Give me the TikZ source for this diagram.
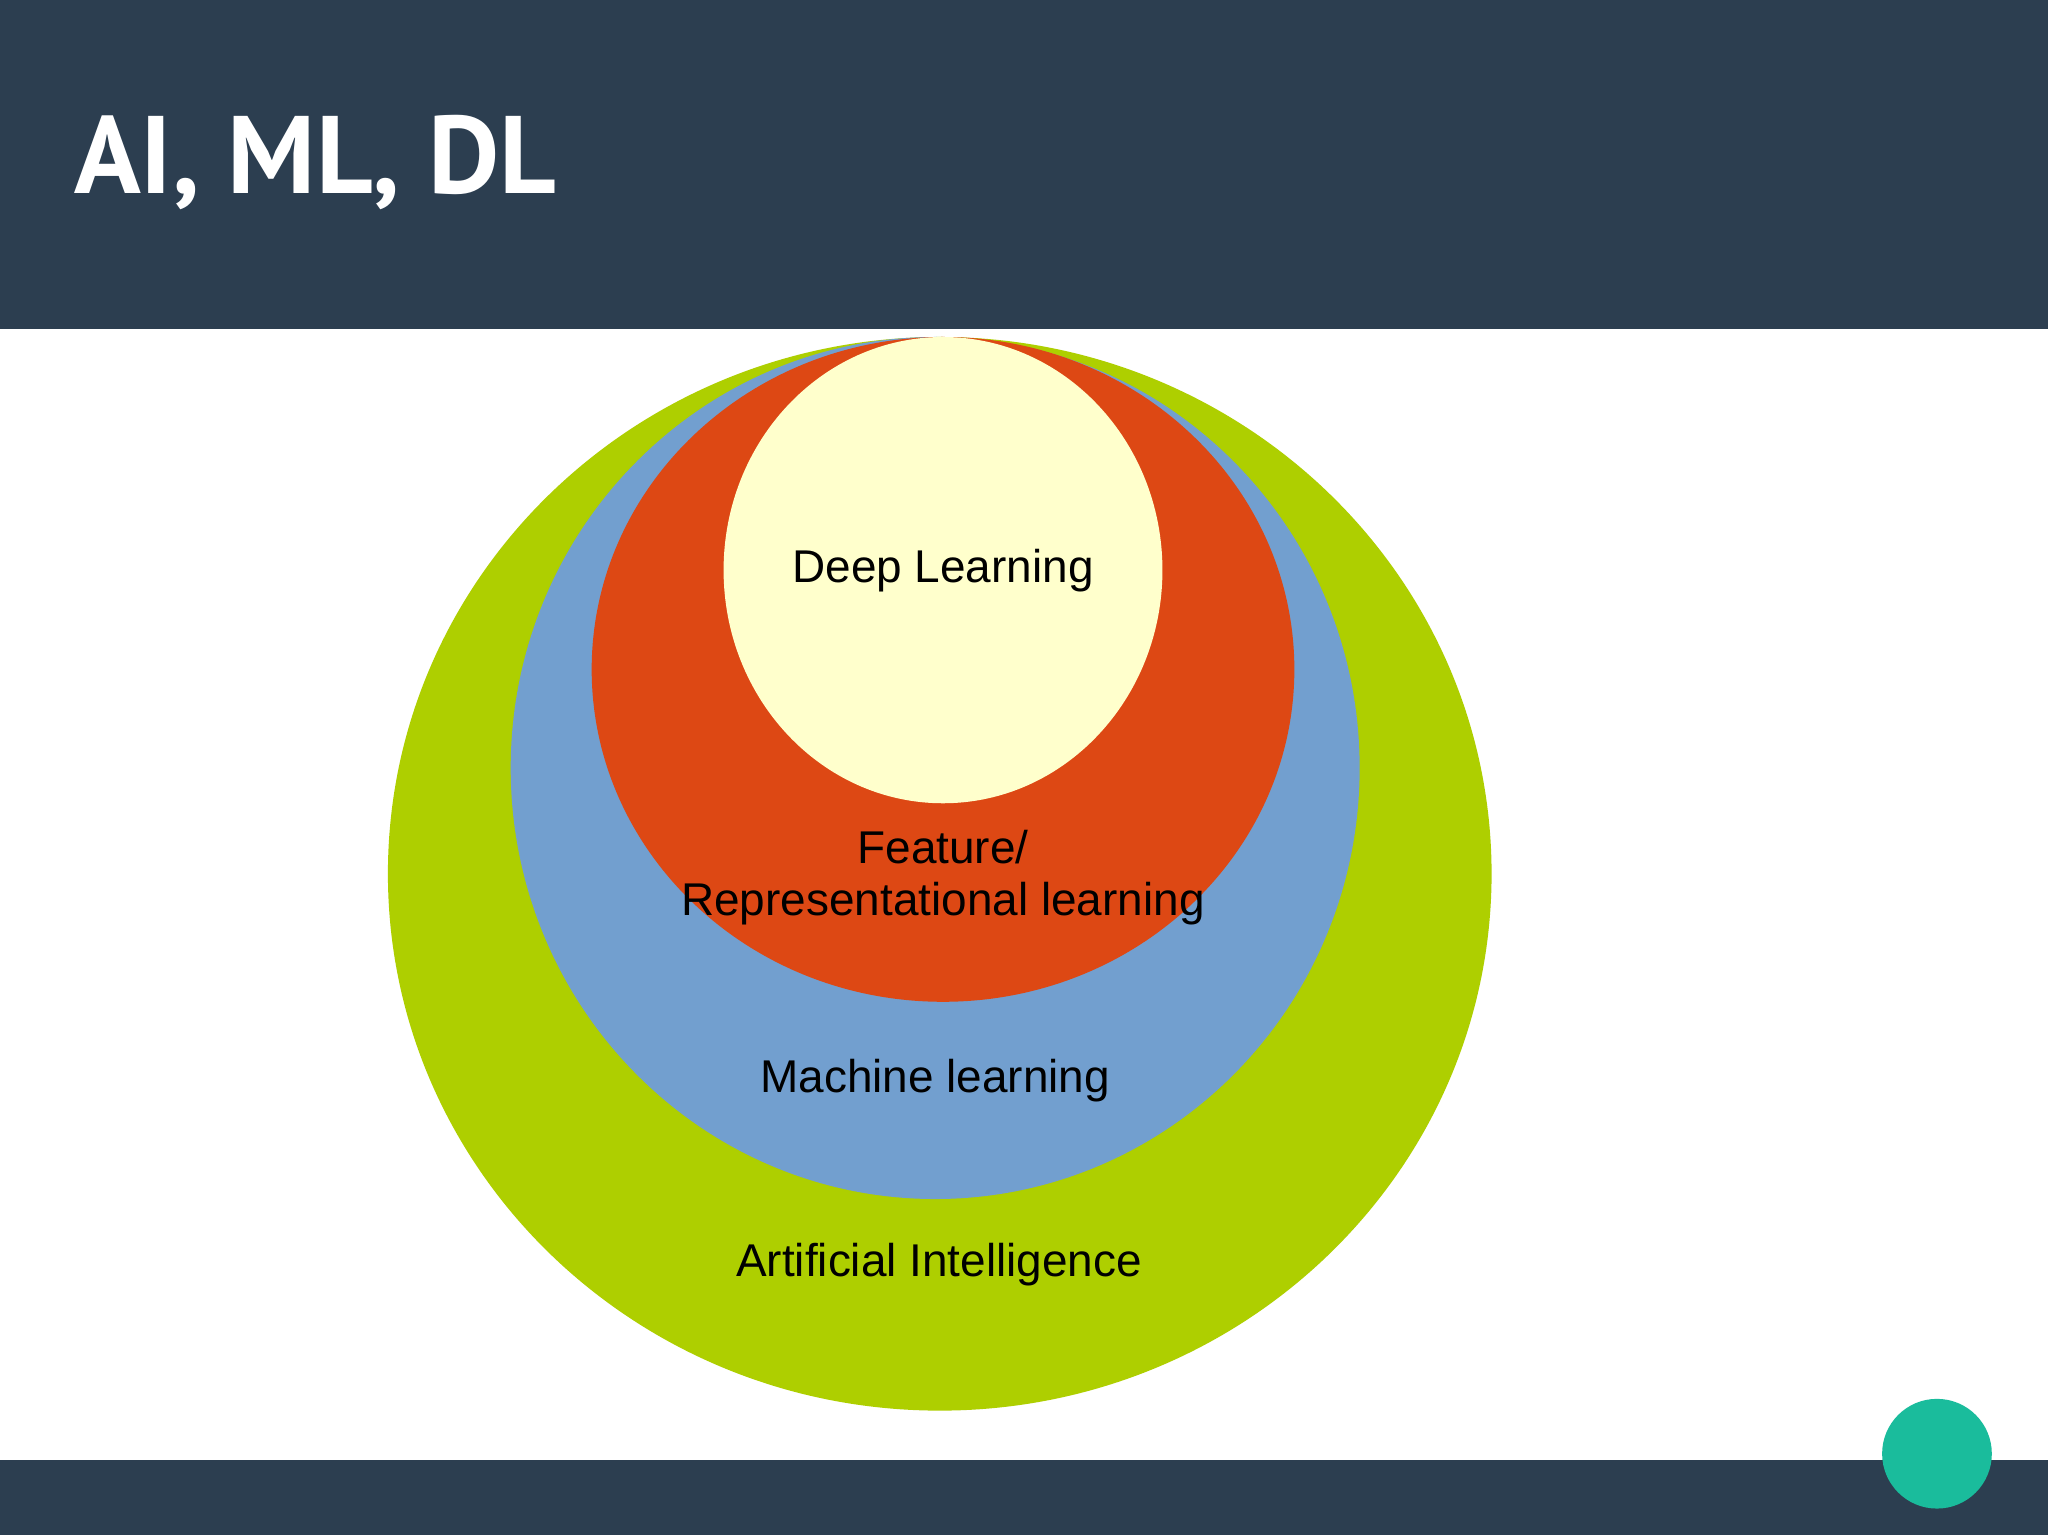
\documentclass[tikz,border=0pt]{standalone}
\usepackage{fontspec}
\setmainfont{Liberation Sans}
\newfontfamily\titlefont{PT Sans}
\definecolor{bar}{HTML}{2C3E50}
\definecolor{aigreen}{HTML}{AECF00}
\definecolor{mlblue}{HTML}{729FCF}
\definecolor{frred}{HTML}{DD4814}
\definecolor{dlyellow}{HTML}{FFFFCC}
\definecolor{teal}{HTML}{1ABC9C}
\tikzset{lbl/.style={font=\fontsize{10}{11.2}\selectfont, text=black, align=center, inner sep=0pt}}
\begin{document}
\begin{tikzpicture}[x=0.01cm,y=-0.01cm]
\useasboundingbox (0,0) rectangle (1568,1175);
\fill[white] (0,0) rectangle (1568,1175);
\fill[bar] (0,0) rectangle (1568,252);
\fill[bar] (0,1118) rectangle (1568,1175);
\node[anchor=base west, text=white, font=\titlefont\bfseries\fontsize{24}{26}\selectfont, inner sep=0pt] (title) at (56,148) {AI, ML, DL};
\fill[aigreen] (719.5,669) ellipse [x radius=422.5, y radius=411];
\fill[mlblue] (716,588) ellipse [x radius=325, y radius=330];
\fill[frred] (722,512.5) ellipse [x radius=269, y radius=254.5];
\fill[dlyellow] (722,436.5) ellipse [x radius=168, y radius=178.5];
\fill[teal] (1483,1113) circle [radius=42];
\node[lbl] (dl) at (722,437) {Deep Learning};
\node[lbl] (fr) at (722,672) {Feature/\\Representational learning};
\node[lbl] (ml) at (716,827) {Machine learning};
\node[lbl] (ai) at (719,968) {Artificial Intelligence};
\end{tikzpicture}
\end{document}
